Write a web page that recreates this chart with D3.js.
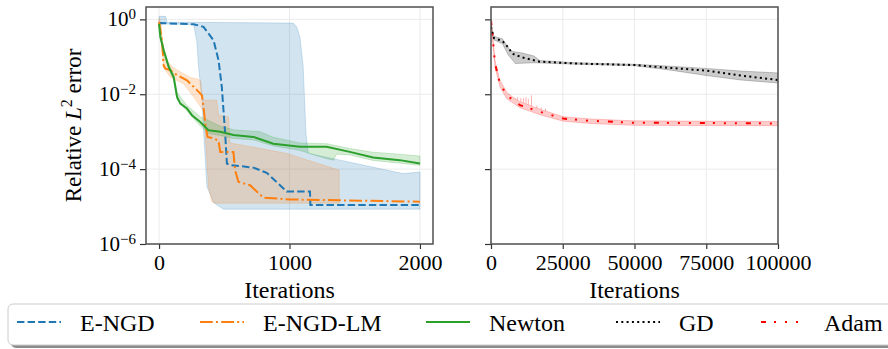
<!DOCTYPE html>
<html lang="en">
<head>
<meta charset="UTF-8" />
<title>Relative L2 error</title>
<script src="https://d3js.org/d3.v7.min.js"></script>
<style>
  body { margin: 0; background: #fff; }
  text { font-family: "Liberation Serif", "DejaVu Serif", serif; fill: #000; }
</style>
</head>
<body>
<div id="chart"></div>
<script>
var w = 888, h = 349;

// all errors stored as log10(relative L2 error)
// left panel: [iteration, log10 error]
var engdLine = [[0,-0.1],[265,-0.13],[341,-0.2],[418,-0.56],[456,-1.09],[481,-1.8],[494,-2.43],[507,-3.05],[520,-3.85],[545,-3.89],[723,-3.96],[826,-4.1],[979,-4.6],[1157,-4.6],[1160,-4.96],[2000,-4.96]];
var engdHi = [[0,0.08],[50,0.08],[60,-0.08],[265,-0.08],[1029,-0.1],[1055,-0.2],[1080,-0.47],[1105,-1.27],[1126,-3.05],[1144,-3.58],[1361,-3.74],[1870,-4.12],[2000,-4.08]];
var engdLo = [[0,-0.15],[50,-0.12],[265,-0.14],[290,-0.6],[303,-1.27],[329,-2.16],[341,-2.96],[367,-4.47],[420,-4.9],[494,-5.07],[2000,-5.07]];

var lmLine = [[0,-0.07],[23,-0.56],[35,-1.23],[48,-1.31],[86,-1.36],[138,-1.49],[214,-1.63],[291,-1.89],[329,-2.03],[341,-2.34],[354,-2.78],[372,-3.14],[418,-3.18],[456,-3.24],[469,-3.54],[570,-3.54],[583,-4.03],[609,-4.34],[698,-4.43],[749,-4.6],[800,-4.76],[1004,-4.81],[2000,-4.87]];
var lmHi = [[0,0.02],[15,-0.1],[35,-1.0],[60,-1.12],[112,-1.3],[239,-1.55],[300,-1.6],[320,-1.65],[335,-2.16],[443,-2.16],[456,-2.56],[532,-2.6],[545,-3.3],[700,-3.4],[979,-3.58],[1381,-4.03]];
var lmLo = [[0,-0.12],[15,-0.5],[35,-1.3],[86,-1.54],[188,-1.72],[265,-2.07],[341,-2.45],[354,-3.04],[379,-4.47],[405,-4.87],[430,-4.91],[1381,-4.91]];

var newtonLine = [[0,-0.12],[10,-0.47],[36,-0.83],[74,-1.27],[112,-1.54],[138,-2.07],[163,-2.25],[214,-2.38],[252,-2.56],[316,-2.74],[379,-2.96],[469,-3.0],[570,-3.09],[723,-3.14],[876,-3.32],[1080,-3.4],[1284,-3.4],[1462,-3.54],[1641,-3.69],[1845,-3.76],[2000,-3.85]];
var newtonHi = [[0,-0.08],[10,-0.4],[36,-0.75],[74,-1.2],[112,-1.45],[138,-1.95],[214,-2.3],[316,-2.6],[379,-2.7],[469,-2.85],[570,-2.95],[775,-3.0],[876,-3.15],[1080,-3.3],[1284,-3.32],[1462,-3.45],[1641,-3.55],[1845,-3.6],[2000,-3.65]];
var newtonLo = [[0,-0.16],[10,-0.52],[36,-0.9],[74,-1.33],[112,-1.62],[138,-2.15],[214,-2.45],[316,-2.85],[379,-3.05],[469,-3.1],[570,-3.18],[723,-3.22],[876,-3.38],[1080,-3.5],[1284,-3.72],[1337,-3.76],[1360,-3.6],[1462,-3.62],[1641,-3.77],[1845,-3.84],[2000,-3.9]];

// right panel
var gdLine = [[0,-0.2],[1000,-0.5],[4000,-0.58],[6000,-0.75],[7500,-0.92],[11000,-1.02],[17000,-1.13],[30000,-1.18],[50000,-1.22],[63000,-1.3],[75000,-1.37],[87000,-1.5],[100000,-1.62]];
var gdHi = [[0,-0.15],[1000,-0.45],[4000,-0.52],[5500,-0.7],[7000,-0.85],[11000,-0.9],[15000,-0.98],[17000,-1.1],[30000,-1.16],[50000,-1.2],[60000,-1.24],[75000,-1.31],[87000,-1.38],[100000,-1.43]];
var gdLo = [[0,-0.25],[1000,-0.55],[4000,-0.65],[6000,-0.95],[8500,-1.18],[15000,-1.16],[30000,-1.2],[50000,-1.24],[62000,-1.35],[75000,-1.5],[87000,-1.62],[100000,-1.7]];

var adamLine = [[0,-0.03],[600,-0.5],[1400,-1.18],[3100,-1.71],[5500,-2.03],[10100,-2.29],[17100,-2.47],[25200,-2.65],[34500,-2.71],[49600,-2.76],[100000,-2.78]];
var adamHi = [[0,0],[600,-0.45],[1400,-1.1],[3100,-1.62],[5500,-1.95],[8000,-2.1],[10100,-2.2],[17100,-2.4],[25200,-2.6],[34500,-2.66],[49600,-2.71],[100000,-2.73]];
var adamLo = [[0,-0.05],[600,-0.58],[1400,-1.28],[3100,-1.8],[5500,-2.12],[10100,-2.36],[17100,-2.55],[25200,-2.72],[34500,-2.78],[49600,-2.83],[100000,-2.84]];
// short spikes in the Adam runs
var adamSpikeIt = [6500, 8400, 9300, 10400, 11300, 12200, 13000, 14100, 16000, 17500, 19000];
var adamSpikeTop = [-2.0, -2.1, -2.08, -2.1, -2.1, -2.08, -2.12, -2.03, -2.3, -2.35, -2.38];

var leftTicks = [0, 1000, 2000];
var rightTicks = [0, 25000, 50000, 75000, 100000];
var yTickExp = [0, -2, -4, -6];

var names = ["E-NGD", "E-NGD-LM", "Newton", "GD", "Adam"];
var colors = ["#1f77b4", "#ff7f0e", "#2ca02c", "#000000", "#ff0000"];
var dashes = ["7.4,3.2", "12.8,3.2,2,3.2", null, "2,3.3", "5,8,2,9,2,9,2,9"];

var svg = d3.select("#chart").append("svg")
    .attr("width", w)
    .attr("height", h);

var yTop = 7, yBottom = 244;
var yScale = d3.scaleLog().domain([1e-6, Math.pow(10, 0.33)]).range([yBottom, yTop]);

var panels = [
    { x: d3.scaleLinear().domain([-100, 2100]).range([146, 433]), ticks: leftTicks, id: "clipL" },
    { x: d3.scaleLinear().domain([0, 100000]).range([491, 778]), ticks: rightTicks, id: "clipR" }
];

function draw(p, series, labels) {
    var x = p.x;
    var x0 = x.range()[0], x1 = x.range()[1];

    svg.append("clipPath").attr("id", p.id)
        .append("rect").attr("x", x0).attr("y", yTop).attr("width", x1 - x0).attr("height", yBottom - yTop);

    // grid
    var grid = svg.append("g");
    p.ticks.forEach(function (t) {
        grid.append("line").attr("x1", x(t)).attr("x2", x(t)).attr("y1", yTop).attr("y2", yBottom)
            .attr("stroke", "#ebebeb").attr("stroke-width", 1);
    });
    yTickExp.forEach(function (e) {
        grid.append("line").attr("x1", x0).attr("x2", x1).attr("y1", yScale(Math.pow(10, e))).attr("y2", yScale(Math.pow(10, e)))
            .attr("stroke", "#ebebeb").attr("stroke-width", 1);
    });

    var line = d3.line()
        .x(function (d) { return x(d[0]); })
        .y(function (d) { return yScale(Math.pow(10, d[1])); });

    var g = svg.append("g").attr("clip-path", "url(#" + p.id + ")");

    // bands first
    series.forEach(function (s) {
        var poly = s.hi.concat(s.lo.slice().reverse());
        g.append("path")
            .attr("d", line(poly) + "Z")
            .attr("fill", s.color).attr("fill-opacity", 0.2)
            .attr("stroke", s.color).attr("stroke-opacity", 0.2).attr("stroke-width", 1);
        if (s.spikes) {
            var hiAt = d3.scaleLinear().domain(s.hi.map(function (q) { return q[0]; })).range(s.hi.map(function (q) { return q[1]; }));
            s.spikes.forEach(function (d) {
                g.append("path").attr("d", line([[d[0], hiAt(d[0])], d]))
                    .attr("stroke", s.color).attr("stroke-opacity", 0.3).attr("stroke-width", 1).attr("fill", "none");
            });
        }
    });
    series.forEach(function (s) {
        g.append("path")
            .datum(s.line)
            .attr("d", line)
            .attr("fill", "none")
            .attr("stroke", s.color)
            .attr("stroke-width", 2)
            .attr("stroke-dasharray", s.dash);
    });

    // axes
    var xAxis = d3.axisBottom(x).tickValues(p.ticks).tickSize(5).tickPadding(5).tickFormat(d3.format("d"));
    var gx = svg.append("g").attr("transform", "translate(0," + yBottom + ")").call(xAxis);
    gx.select(".domain").remove();
    gx.selectAll(".tick line").attr("stroke", "#333").attr("stroke-width", 1.2);
    gx.selectAll("text").style("font-size", "22px").style("font-family", "Liberation Serif");

    var yAxis = d3.axisLeft(yScale).tickValues(yTickExp.map(function (e) { return Math.pow(10, e); })).tickSize(6).tickFormat("");
    var gy = svg.append("g").attr("transform", "translate(" + x0 + ",0)").call(yAxis);
    gy.select(".domain").remove();
    gy.selectAll(".tick line").attr("stroke", "#333").attr("stroke-width", 1.2);

    if (labels) {
        yTickExp.forEach(function (e) {
            var t = svg.append("text")
                .attr("x", x0 - 10)
                .attr("y", yScale(Math.pow(10, e)) + 7)
                .attr("text-anchor", "end")
                .style("font-size", "21px");
            t.append("tspan").text("10");
            t.append("tspan").attr("dy", -7).style("font-size", "15px").text(e === 0 ? "0" : "\u2212" + (-e));
        });
        var yl = svg.append("text")
            .attr("transform", "translate(81," + ((yTop + yBottom) / 2) + ") rotate(-90)")
            .attr("text-anchor", "middle")
            .style("font-size", "23px");
        yl.append("tspan").text("Relative ");
        yl.append("tspan").style("font-style", "italic").text("L");
        yl.append("tspan").attr("dy", -9).style("font-size", "16px").text("2");
        yl.append("tspan").attr("dy", 9).text(" error");
    }

    svg.append("text")
        .attr("x", (x0 + x1) / 2)
        .attr("y", 298)
        .attr("text-anchor", "middle")
        .style("font-size", "24px")
        .text("Iterations");

    // spines
    svg.append("rect").attr("x", x0).attr("y", yTop).attr("width", x1 - x0).attr("height", yBottom - yTop)
        .attr("fill", "none").attr("stroke", "#505050").attr("stroke-width", 1.5);
}

draw(panels[0], [
    { line: engdLine, hi: engdHi, lo: engdLo, color: colors[0], dash: dashes[0] },
    { line: lmLine, hi: lmHi, lo: lmLo, color: colors[1], dash: dashes[1] },
    { line: newtonLine, hi: newtonHi, lo: newtonLo, color: colors[2], dash: dashes[2] }
], true);

draw(panels[1], [
    { line: gdLine, hi: gdHi, lo: gdLo, color: colors[3], dash: dashes[3] },
    { line: adamLine, hi: adamHi, lo: adamLo, color: colors[4], dash: dashes[4],
      spikes: adamSpikeIt.map(function (it, i) { return [it, adamSpikeTop[i]]; }) }
], false);

// legend
var legendX = [17, 200, 426, 616, 761];
var legend = svg.append("g");
legend.append("rect").attr("x", 11).attr("y", 307).attr("width", 900).attr("height", 41).attr("rx", 5)
    .attr("fill", "#8c8c8c");
legend.append("rect").attr("x", 8).attr("y", 304).attr("width", 900).attr("height", 41).attr("rx", 5)
    .attr("fill", "#fff").attr("stroke", "#cccccc").attr("stroke-width", 1);
names.forEach(function (n, i) {
    legend.append("line")
        .attr("x1", legendX[i]).attr("x2", legendX[i] + 44)
        .attr("y1", 322).attr("y2", 322)
        .attr("stroke", colors[i]).attr("stroke-width", 2)
        .attr("stroke-dasharray", dashes[i]);
    legend.append("text")
        .attr("x", legendX[i] + 63)
        .attr("y", 330.5)
        .style("font-size", "24px")
        .text(n);
});
</script>
</body>
</html>
